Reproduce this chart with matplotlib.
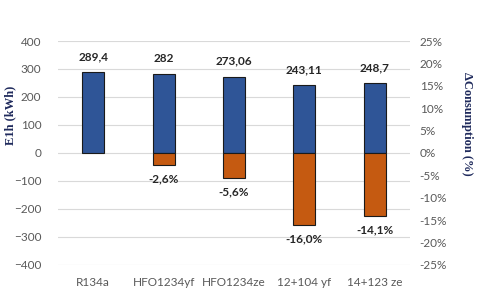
import numpy as np
import matplotlib
matplotlib.use('Agg')
import matplotlib.pyplot as plt
from matplotlib.ticker import FuncFormatter

# data
refrigerants = ['R134a', 'HFO1234yf', 'HFO1234ze', '12+104 yf', '14+123 ze']
e1h = [289.4, 282, 273.06, 243.11, 248.7]
e1h_labels = ['289,4', '282', '273,06', '243,11', '248,7']
d_cons = [np.nan, -2.6, -5.6, -16.0, -14.1]   # %
d_cons_labels = ['', '-2,6%', '-5,6%', '-16,0%', '-14,1%']

plt.rcParams['font.family'] = ['Lato', 'DejaVu Sans']
tick_col = '#595959'
blue = '#2F5597'
orange = '#C55A11'

fig = plt.figure(figsize=(4.8, 2.95), dpi=100)
ax = fig.add_axes([0.121, 0.102, 0.733, 0.759])
ax2 = ax.twinx()

x = np.arange(len(refrigerants))
w = 0.31

ax.bar(x, e1h, width=w, color=blue, edgecolor='#1a1a1a', linewidth=0.8, zorder=3)
ax2.bar(x, d_cons, width=w, color=orange, edgecolor='#1a1a1a', linewidth=0.8, zorder=3)

ax.set_ylim(-400, 400)
ax.set_yticks(np.arange(-400, 401, 100))
ax2.set_ylim(-25, 25)
ax2.set_yticks(np.arange(-25, 26, 5))
ax2.yaxis.set_major_formatter(FuncFormatter(lambda v, p: f'{v:.0f}%'))

ax.set_xlim(-0.5, len(refrigerants) - 0.5)
ax.set_xticks(x)
ax.set_xticklabels(refrigerants)

ax.grid(axis='y', color='#d9d9d9', linewidth=0.8, zorder=0)
ax.set_axisbelow(True)
for a in (ax, ax2):
    for s in a.spines.values():
        s.set_visible(False)
    a.tick_params(length=0, labelsize=8.5, colors=tick_col)
ax.tick_params(axis='x', pad=9)
ax.tick_params(axis='y', pad=12)
ax2.tick_params(axis='y', pad=7)

# value labels
for xi, v, lab in zip(x, e1h, e1h_labels):
    ax.annotate(lab, (xi, v), xytext=(0, 7), textcoords='offset points',
                ha='center', va='bottom', fontsize=8.5, fontweight='bold', color='#262626')
for xi, v, lab in zip(x, d_cons, d_cons_labels):
    if lab:
        ax2.annotate(lab, (xi, v), xytext=(0, -6), textcoords='offset points',
                     ha='center', va='top', fontsize=8.5, fontweight='bold', color='#262626')

ax.set_ylabel('E1h (kWh)', family='Liberation Serif', fontweight='bold',
              fontsize=9, color='#1F2A5C')
ax.yaxis.set_label_coords(-0.12, 0.67)
ax2.set_ylabel('ΔConsumption (%)', family='Liberation Serif', fontweight='bold',
               fontsize=9, color='#1F2A5C', rotation=270, va='bottom')
ax2.yaxis.set_label_coords(1.145, 0.63)

fig.savefig('out.png', dpi=100, facecolor='white')
